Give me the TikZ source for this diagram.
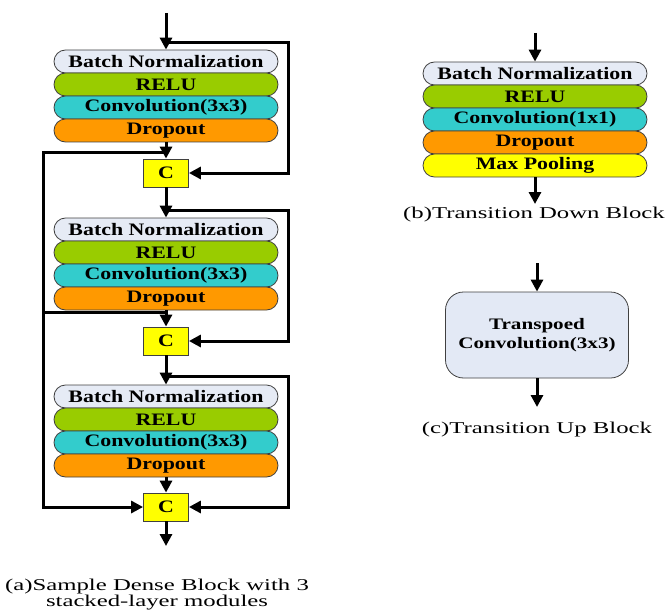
\documentclass[tikz,border=0pt]{standalone}
\usepackage{fontspec}
\setmainfont{Liberation Serif}
\newfontfamily\pillfont[FakeStretch=1.25]{Liberation Serif}
\newfontfamily\capfont[FakeStretch=1.5]{Liberation Serif}
\newfontfamily\boxfont[FakeStretch=1.32]{Liberation Serif}
\usetikzlibrary{arrows.meta}
\definecolor{bncol}{HTML}{E6EBF5}
\definecolor{relucol}{HTML}{99CC00}
\definecolor{convcol}{HTML}{33CCCC}
\definecolor{dropcol}{HTML}{FF9900}
\definecolor{poolcol}{HTML}{FFFF00}
\definecolor{ccol}{HTML}{FFFF00}
\definecolor{tcol}{HTML}{E3E9F5}
\definecolor{edgecol}{HTML}{404040}
\tikzset{
  pill/.style={draw=edgecol, line width=0.8pt, rounded corners=11.5pt,
    minimum width=224pt, minimum height=23pt, inner sep=0pt,
    font=\pillfont\bfseries\fontsize{17.5}{18}\selectfont},
  cbox/.style={draw=edgecol, line width=0.8pt, fill=ccol, minimum width=45pt,
    minimum height=28pt, inner sep=0pt,
    font=\pillfont\bfseries\fontsize{17.5}{18}\selectfont},
  tbox/.style={draw=edgecol, line width=0.8pt, fill=tcol, rounded corners=18pt,
    minimum width=183pt, minimum height=86pt, inner sep=0pt, align=center,
    font=\boxfont\bfseries\fontsize{16}{19}\selectfont},
  conn/.style={line width=3pt, -{Triangle[length=12pt,width=12pt]}},
  wire/.style={line width=3pt},
  captxt/.style={font=\capfont\fontsize{16.5}{17}\selectfont, anchor=base, inner sep=0pt}
}
\begin{document}
\begin{tikzpicture}[x=1pt,y=-1pt]
\useasboundingbox (0,0) rectangle (669,615);

% ---------- (a) dense block ----------
\node[pill, fill=bncol]   (bn1)   at (166,61.5)  {Batch Normalization};
\node[pill, fill=relucol] (relu1) at (166,84.5)  {RELU};
\node[pill, fill=convcol] (conv1) at (166,107.5) {Convolution(3x3)};
\node[pill, fill=dropcol] (drop1) at (166,130.5) {Dropout};
\node[cbox] (c1) at (166,173) {C};

\node[pill, fill=bncol]   (bn2)   at (166,229.5) {Batch Normalization};
\node[pill, fill=relucol] (relu2) at (166,252.5) {RELU};
\node[pill, fill=convcol] (conv2) at (166,275.5) {Convolution(3x3)};
\node[pill, fill=dropcol] (drop2) at (166,298.5) {Dropout};
\node[cbox] (c2) at (166,341) {C};

\node[pill, fill=bncol]   (bn3)   at (166,396.5) {Batch Normalization};
\node[pill, fill=relucol] (relu3) at (166,419.5) {RELU};
\node[pill, fill=convcol] (conv3) at (166,442.5) {Convolution(3x3)};
\node[pill, fill=dropcol] (drop3) at (166,465.5) {Dropout};
\node[cbox] (c3) at (166,507) {C};

\coordinate (ain)  at (166,13);
\coordinate (aout) at (166,546);
\coordinate (b1) at (166,43);
\coordinate (r1) at (288,43);
\coordinate (b2) at (166,210);
\coordinate (r2) at (288,210);
\coordinate (b3) at (166,376);
\coordinate (r3) at (288,376);
\coordinate (l1) at (166,152);
\coordinate (lc1) at (43,152);
\coordinate (l2) at (166,312);
\coordinate (lc2) at (43,312);

\draw[conn] (ain) -- (bn1.north);
\draw[conn] (b1) -- (r1) |- (c1.east);
\draw[conn] (drop1.south) -- (c1.north);
\draw[conn] (c1.south) -- (bn2.north);
\draw[conn] (b2) -- (r2) |- (c2.east);
\draw[conn] (drop2.south) -- (c2.north);
\draw[conn] (c2.south) -- (bn3.north);
\draw[conn] (b3) -- (r3) |- (c3.east);
\draw[conn] (drop3.south) -- (c3.north);
\draw[conn] (c3.south) -- (aout);
\draw[conn] (l1) -- (lc1) |- (c3.west);
\draw[wire] (lc2) -- (l2);

\node[captxt] (capa1) at (157,590) {(a)Sample Dense Block with 3};
\node[captxt] (capa2) at (157,606) {stacked-layer modules};

% ---------- (b) transition down ----------
\node[pill, fill=bncol]   (tbn)   at (535,73.5)  {Batch Normalization};
\node[pill, fill=relucol] (trelu) at (535,96.5)  {RELU};
\node[pill, fill=convcol] (tconv) at (535,119.5) {Convolution(1x1)};
\node[pill, fill=dropcol] (tdrop) at (535,142.5) {Dropout};
\node[pill, fill=poolcol] (tpool) at (535,165.5) {Max Pooling};
\coordinate (bin)  at (535,33);
\coordinate (bout) at (535,204);
\draw[conn] (bin) -- (tbn.north);
\draw[conn] (tpool.south) -- (bout);
\node[captxt] (capb) at (534,218) {(b)Transition Down Block};

% ---------- (c) transition up ----------
\node[tbox] (tup) at (537,335) {Transpoed\\Convolution(3x3)};
\coordinate (cin)  at (537,263);
\coordinate (cout) at (537,407);
\draw[conn] (cin) -- (tup.north);
\draw[conn] (tup.south) -- (cout);
\node[captxt] (capc) at (537,433) {(c)Transition Up Block};
\end{tikzpicture}
\end{document}
